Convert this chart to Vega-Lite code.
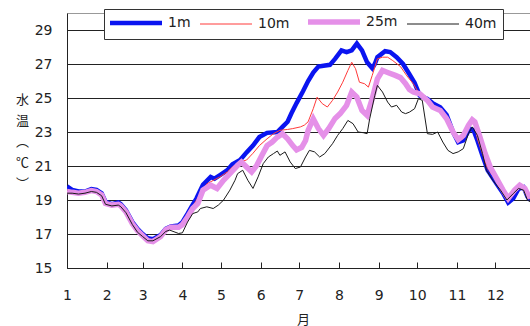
{
"$schema": "https://vega.github.io/schema/vega-lite/v6.json",
"width": 463, "height": 255,
"autosize": {"type": "none"},
"padding": {"left": 67, "top": 13, "right": 0, "bottom": 58},
"background": "white",
"config": {"view": {"stroke": "#999", "strokeWidth": 1}, "font": "DejaVu Sans"},
"data": {"values": [
{"series":"1m","day":0,"temp":19.8},{"series":"1m","day":4,"temp":19.6},{"series":"1m","day":9,"temp":19.5},{"series":"1m","day":14,"temp":19.5},{"series":"1m","day":19,"temp":19.65},{"series":"1m","day":23,"temp":19.6},{"series":"1m","day":27,"temp":19.4},{"series":"1m","day":30,"temp":18.9},{"series":"1m","day":35,"temp":18.75},{"series":"1m","day":40,"temp":18.85},{"series":"1m","day":42,"temp":18.75},{"series":"1m","day":46,"temp":18.4},{"series":"1m","day":51,"temp":17.7},{"series":"1m","day":55,"temp":17.3},{"series":"1m","day":59,"temp":17.0},{"series":"1m","day":63,"temp":16.75},{"series":"1m","day":67,"temp":16.7},{"series":"1m","day":73,"temp":16.95},{"series":"1m","day":77,"temp":17.3},{"series":"1m","day":81,"temp":17.45},{"series":"1m","day":87,"temp":17.5},{"series":"1m","day":90,"temp":17.7},{"series":"1m","day":94,"temp":18.2},{"series":"1m","day":97,"temp":18.6},{"series":"1m","day":101,"temp":19.1},{"series":"1m","day":106,"temp":19.9},{"series":"1m","day":112,"temp":20.35},{"series":"1m","day":115,"temp":20.25},{"series":"1m","day":119,"temp":20.45},{"series":"1m","day":125,"temp":20.75},{"series":"1m","day":129,"temp":21.1},{"series":"1m","day":135,"temp":21.35},{"series":"1m","day":140,"temp":21.8},{"series":"1m","day":145,"temp":22.2},{"series":"1m","day":150,"temp":22.7},{"series":"1m","day":156,"temp":22.95},{"series":"1m","day":164,"temp":23.0},{"series":"1m","day":168,"temp":23.3},{"series":"1m","day":172,"temp":23.6},{"series":"1m","day":175,"temp":24.1},{"series":"1m","day":179,"temp":24.7},{"series":"1m","day":184,"temp":25.4},{"series":"1m","day":188,"temp":26.0},{"series":"1m","day":192,"temp":26.5},{"series":"1m","day":196,"temp":26.85},{"series":"1m","day":200,"temp":26.9},{"series":"1m","day":205,"temp":26.95},{"series":"1m","day":209,"temp":27.3},{"series":"1m","day":214,"temp":27.8},{"series":"1m","day":218,"temp":27.7},{"series":"1m","day":222,"temp":27.8},{"series":"1m","day":226,"temp":28.2},{"series":"1m","day":230,"temp":27.8},{"series":"1m","day":234,"temp":27.1},{"series":"1m","day":238,"temp":26.75},{"series":"1m","day":240,"temp":27.0},{"series":"1m","day":242,"temp":27.4},{"series":"1m","day":248,"temp":27.75},{"series":"1m","day":252,"temp":27.7},{"series":"1m","day":257,"temp":27.4},{"series":"1m","day":262,"temp":27.0},{"series":"1m","day":267,"temp":26.4},{"series":"1m","day":271,"temp":25.9},{"series":"1m","day":275,"temp":25.15},{"series":"1m","day":281,"temp":24.95},{"series":"1m","day":285,"temp":24.7},{"series":"1m","day":291,"temp":24.45},{"series":"1m","day":296,"temp":24.0},{"series":"1m","day":301,"temp":23.0},{"series":"1m","day":305,"temp":22.4},{"series":"1m","day":309,"temp":22.5},{"series":"1m","day":314,"temp":23.2},{"series":"1m","day":317,"temp":23.1},{"series":"1m","day":320,"temp":22.5},{"series":"1m","day":324,"temp":21.6},{"series":"1m","day":328,"temp":20.75},{"series":"1m","day":335,"temp":19.95},{"series":"1m","day":340,"temp":19.4},{"series":"1m","day":344,"temp":18.85},{"series":"1m","day":348,"temp":19.1},{"series":"1m","day":352,"temp":19.65},{"series":"1m","day":356,"temp":19.75},{"series":"1m","day":359,"temp":19.2},{"series":"1m","day":361,"temp":19.0},
{"series":"10m","day":0,"temp":19.6},{"series":"10m","day":4,"temp":19.5},{"series":"10m","day":9,"temp":19.45},{"series":"10m","day":14,"temp":19.45},{"series":"10m","day":19,"temp":19.6},{"series":"10m","day":23,"temp":19.55},{"series":"10m","day":27,"temp":19.35},{"series":"10m","day":30,"temp":18.85},{"series":"10m","day":35,"temp":18.75},{"series":"10m","day":40,"temp":18.8},{"series":"10m","day":42,"temp":18.7},{"series":"10m","day":46,"temp":18.35},{"series":"10m","day":51,"temp":17.65},{"series":"10m","day":55,"temp":17.2},{"series":"10m","day":59,"temp":16.9},{"series":"10m","day":63,"temp":16.65},{"series":"10m","day":67,"temp":16.6},{"series":"10m","day":73,"temp":16.9},{"series":"10m","day":77,"temp":17.25},{"series":"10m","day":81,"temp":17.4},{"series":"10m","day":87,"temp":17.45},{"series":"10m","day":90,"temp":17.6},{"series":"10m","day":94,"temp":18.1},{"series":"10m","day":97,"temp":18.5},{"series":"10m","day":101,"temp":19.0},{"series":"10m","day":106,"temp":19.6},{"series":"10m","day":109,"temp":19.95},{"series":"10m","day":114,"temp":20.15},{"series":"10m","day":119,"temp":20.35},{"series":"10m","day":125,"temp":20.65},{"series":"10m","day":129,"temp":20.95},{"series":"10m","day":135,"temp":21.25},{"series":"10m","day":140,"temp":21.35},{"series":"10m","day":145,"temp":21.75},{"series":"10m","day":150,"temp":22.2},{"series":"10m","day":156,"temp":22.6},{"series":"10m","day":161,"temp":22.9},{"series":"10m","day":166,"temp":23.1},{"series":"10m","day":172,"temp":23.15},{"series":"10m","day":176,"temp":23.2},{"series":"10m","day":182,"temp":23.3},{"series":"10m","day":185,"temp":23.4},{"series":"10m","day":188,"temp":23.6},{"series":"10m","day":192,"temp":24.37},{"series":"10m","day":195,"temp":25.05},{"series":"10m","day":199,"temp":24.67},{"series":"10m","day":203,"temp":24.47},{"series":"10m","day":207,"temp":24.86},{"series":"10m","day":211,"temp":25.35},{"series":"10m","day":215,"temp":25.93},{"series":"10m","day":219,"temp":26.62},{"series":"10m","day":222,"temp":27.1},{"series":"10m","day":225,"temp":26.72},{"series":"10m","day":228,"temp":25.93},{"series":"10m","day":232,"temp":25.84},{"series":"10m","day":235,"temp":25.64},{"series":"10m","day":238,"temp":26.33},{"series":"10m","day":242,"temp":27.3},{"series":"10m","day":246,"temp":27.4},{"series":"10m","day":250,"temp":27.4},{"series":"10m","day":254,"temp":27.2},{"series":"10m","day":260,"temp":26.85},{"series":"10m","day":265,"temp":26.3},{"series":"10m","day":270,"temp":25.84},{"series":"10m","day":275,"temp":25.2},{"series":"10m","day":281,"temp":24.9},{"series":"10m","day":285,"temp":24.6},{"series":"10m","day":291,"temp":24.35},{"series":"10m","day":296,"temp":23.9},{"series":"10m","day":301,"temp":23.0},{"series":"10m","day":305,"temp":22.45},{"series":"10m","day":309,"temp":22.6},{"series":"10m","day":313,"temp":23.3},{"series":"10m","day":316,"temp":23.5},{"series":"10m","day":318,"temp":23.4},{"series":"10m","day":320,"temp":22.6},{"series":"10m","day":324,"temp":21.7},{"series":"10m","day":328,"temp":20.85},{"series":"10m","day":335,"temp":20.1},{"series":"10m","day":340,"temp":19.5},{"series":"10m","day":344,"temp":18.95},{"series":"10m","day":348,"temp":19.3},{"series":"10m","day":352,"temp":19.7},{"series":"10m","day":356,"temp":19.75},{"series":"10m","day":359,"temp":19.2},{"series":"10m","day":361,"temp":19.05},
{"series":"25m","day":0,"temp":19.5},{"series":"25m","day":4,"temp":19.45},{"series":"25m","day":9,"temp":19.4},{"series":"25m","day":14,"temp":19.45},{"series":"25m","day":19,"temp":19.55},{"series":"25m","day":23,"temp":19.5},{"series":"25m","day":27,"temp":19.3},{"series":"25m","day":30,"temp":18.8},{"series":"25m","day":35,"temp":18.7},{"series":"25m","day":40,"temp":18.75},{"series":"25m","day":42,"temp":18.65},{"series":"25m","day":46,"temp":18.3},{"series":"25m","day":51,"temp":17.6},{"series":"25m","day":55,"temp":17.2},{"series":"25m","day":59,"temp":16.9},{"series":"25m","day":63,"temp":16.6},{"series":"25m","day":67,"temp":16.55},{"series":"25m","day":73,"temp":16.85},{"series":"25m","day":77,"temp":17.25},{"series":"25m","day":81,"temp":17.4},{"series":"25m","day":87,"temp":17.4},{"series":"25m","day":90,"temp":17.55},{"series":"25m","day":94,"temp":18.0},{"series":"25m","day":98,"temp":18.5},{"series":"25m","day":102,"temp":18.8},{"series":"25m","day":106,"temp":19.58},{"series":"25m","day":112,"temp":19.87},{"series":"25m","day":117,"temp":19.68},{"series":"25m","day":122,"temp":20.16},{"series":"25m","day":127,"temp":20.55},{"series":"25m","day":133,"temp":21.04},{"series":"25m","day":136,"temp":21.24},{"series":"25m","day":140,"temp":20.94},{"series":"25m","day":144,"temp":20.65},{"series":"25m","day":148,"temp":21.04},{"series":"25m","day":152,"temp":21.63},{"series":"25m","day":156,"temp":22.2},{"series":"25m","day":160,"temp":22.41},{"series":"25m","day":164,"temp":22.7},{"series":"25m","day":168,"temp":22.9},{"series":"25m","day":172,"temp":22.6},{"series":"25m","day":176,"temp":22.2},{"series":"25m","day":179,"temp":21.95},{"series":"25m","day":183,"temp":22.1},{"series":"25m","day":186,"temp":22.5},{"series":"25m","day":188,"temp":23.1},{"series":"25m","day":192,"temp":23.78},{"series":"25m","day":196,"temp":23.2},{"series":"25m","day":200,"temp":22.8},{"series":"25m","day":204,"temp":23.2},{"series":"25m","day":209,"temp":23.8},{"series":"25m","day":213,"temp":24.08},{"series":"25m","day":218,"temp":24.57},{"series":"25m","day":222,"temp":25.35},{"series":"25m","day":226,"temp":25.05},{"series":"25m","day":230,"temp":24.27},{"series":"25m","day":234,"temp":23.98},{"series":"25m","day":238,"temp":24.96},{"series":"25m","day":242,"temp":26.13},{"series":"25m","day":246,"temp":26.62},{"series":"25m","day":250,"temp":26.5},{"series":"25m","day":256,"temp":26.33},{"series":"25m","day":260,"temp":26.2},{"series":"25m","day":264,"temp":25.84},{"series":"25m","day":267,"temp":25.5},{"series":"25m","day":270,"temp":25.35},{"series":"25m","day":275,"temp":25.25},{"series":"25m","day":281,"temp":24.86},{"series":"25m","day":285,"temp":24.47},{"series":"25m","day":291,"temp":24.27},{"series":"25m","day":296,"temp":23.78},{"series":"25m","day":301,"temp":23.0},{"series":"25m","day":305,"temp":22.55},{"series":"25m","day":309,"temp":22.8},{"series":"25m","day":313,"temp":23.39},{"series":"25m","day":316,"temp":23.72},{"series":"25m","day":318,"temp":23.6},{"series":"25m","day":322,"temp":22.7},{"series":"25m","day":326,"temp":21.73},{"series":"25m","day":330,"temp":20.94},{"series":"25m","day":335,"temp":20.26},{"series":"25m","day":340,"temp":19.58},{"series":"25m","day":344,"temp":19.09},{"series":"25m","day":349,"temp":19.58},{"series":"25m","day":353,"temp":19.87},{"series":"25m","day":357,"temp":19.68},{"series":"25m","day":361,"temp":19.09},
{"series":"40m","day":0,"temp":19.4},{"series":"40m","day":4,"temp":19.4},{"series":"40m","day":9,"temp":19.35},{"series":"40m","day":14,"temp":19.4},{"series":"40m","day":19,"temp":19.5},{"series":"40m","day":23,"temp":19.45},{"series":"40m","day":27,"temp":19.25},{"series":"40m","day":30,"temp":18.75},{"series":"40m","day":35,"temp":18.65},{"series":"40m","day":40,"temp":18.7},{"series":"40m","day":42,"temp":18.6},{"series":"40m","day":46,"temp":18.25},{"series":"40m","day":51,"temp":17.55},{"series":"40m","day":55,"temp":17.1},{"series":"40m","day":59,"temp":16.85},{"series":"40m","day":63,"temp":16.6},{"series":"40m","day":67,"temp":16.6},{"series":"40m","day":73,"temp":16.85},{"series":"40m","day":77,"temp":17.15},{"series":"40m","day":80,"temp":17.23},{"series":"40m","day":87,"temp":17.03},{"series":"40m","day":90,"temp":17.07},{"series":"40m","day":94,"temp":17.7},{"series":"40m","day":98,"temp":18.2},{"series":"40m","day":102,"temp":18.3},{"series":"40m","day":104,"temp":18.5},{"series":"40m","day":109,"temp":18.6},{"series":"40m","day":114,"temp":18.5},{"series":"40m","day":118,"temp":18.7},{"series":"40m","day":122,"temp":18.99},{"series":"40m","day":127,"temp":19.58},{"series":"40m","day":131,"temp":20.16},{"series":"40m","day":133,"temp":20.55},{"series":"40m","day":137,"temp":20.75},{"series":"40m","day":141,"temp":20.16},{"series":"40m","day":145,"temp":19.68},{"series":"40m","day":149,"temp":20.36},{"series":"40m","day":153,"temp":21.14},{"series":"40m","day":157,"temp":21.53},{"series":"40m","day":161,"temp":21.73},{"series":"40m","day":164,"temp":21.88},{"series":"40m","day":166,"temp":21.63},{"series":"40m","day":170,"temp":21.83},{"series":"40m","day":174,"temp":21.24},{"series":"40m","day":178,"temp":20.85},{"series":"40m","day":182,"temp":20.94},{"series":"40m","day":186,"temp":21.53},{"series":"40m","day":189,"temp":21.92},{"series":"40m","day":193,"temp":21.83},{"series":"40m","day":197,"temp":21.53},{"series":"40m","day":201,"temp":21.73},{"series":"40m","day":207,"temp":22.31},{"series":"40m","day":211,"temp":22.8},{"series":"40m","day":215,"temp":23.2},{"series":"40m","day":219,"temp":23.68},{"series":"40m","day":223,"temp":23.49},{"series":"40m","day":227,"temp":23.0},{"series":"40m","day":231,"temp":22.96},{"series":"40m","day":234,"temp":22.9},{"series":"40m","day":236,"temp":23.78},{"series":"40m","day":240,"temp":25.15},{"series":"40m","day":242,"temp":25.74},{"series":"40m","day":246,"temp":25.35},{"series":"40m","day":250,"temp":24.76},{"series":"40m","day":253,"temp":24.47},{"series":"40m","day":257,"temp":24.57},{"series":"40m","day":261,"temp":24.17},{"series":"40m","day":264,"temp":24.08},{"series":"40m","day":267,"temp":24.17},{"series":"40m","day":271,"temp":24.37},{"series":"40m","day":274,"temp":24.96},{"series":"40m","day":277,"temp":24.86},{"series":"40m","day":279,"temp":23.88},{"series":"40m","day":281,"temp":22.9},{"series":"40m","day":285,"temp":22.86},{"series":"40m","day":289,"temp":23.0},{"series":"40m","day":293,"temp":22.41},{"series":"40m","day":297,"temp":21.92},{"series":"40m","day":301,"temp":21.73},{"series":"40m","day":305,"temp":21.83},{"series":"40m","day":309,"temp":22.02},{"series":"40m","day":313,"temp":22.9},{"series":"40m","day":316,"temp":23.3},{"series":"40m","day":320,"temp":22.8},{"series":"40m","day":324,"temp":21.73},{"series":"40m","day":327,"temp":20.75},{"series":"40m","day":332,"temp":20.16},{"series":"40m","day":338,"temp":19.58},{"series":"40m","day":343,"temp":19.0},{"series":"40m","day":348,"temp":19.38},{"series":"40m","day":352,"temp":19.68},{"series":"40m","day":356,"temp":19.58},{"series":"40m","day":359,"temp":19.0},{"series":"40m","day":361,"temp":18.9}
]},
"mark": {"type": "line", "interpolate": "linear", "clip": true},
"encoding": {
  "x": {"field": "day", "type": "quantitative",
    "scale": {"domain": [0, 361], "nice": false, "zero": false},
    "axis": {"values": [0,31,59,90,120,151,181,212,243,273,304,334],
      "labelExpr": "indexof([0,31,59,90,120,151,181,212,243,273,304,334], datum.value) + 1",
      "grid": false, "tickSize": -6, "tickColor": "#222", "domainColor": "#222",
      "labelPadding": 26, "labelFontSize": 14, "labelColor": "#222", "labelFlush": false, "labelOverlap": false,
      "title": "月", "titleFont": "Noto Sans CJK JP", "titleX": 236, "titleY": 45, "titleAlign": "center", "titleBaseline": "top",
      "titleFontSize": 13, "titleFontWeight": "normal", "titleColor": "#222"}},
  "y": {"field": "temp", "type": "quantitative",
    "scale": {"domain": [15, 30], "nice": false, "zero": false},
    "axis": {"values": [15,17,19,21,23,25,27,29], "grid": true, "gridColor": "#222", "gridWidth": 1,
      "ticks": false, "domainColor": "#222", "labelPadding": 15, "labelFontSize": 14, "labelColor": "#222",
      "title": ["水","温","︵","℃","︶"], "titleFont": "Noto Sans CJK JP", "titleAngle": 0, "titleX": -45, "titleY": 80,
      "titleAlign": "center", "titleBaseline": "top", "titleFontSize": 13, "titleFontWeight": "normal",
      "titleLineHeight": 21, "titleColor": "#222"}},
  "color": {"field": "series", "type": "nominal",
    "scale": {"domain": ["1m","10m","25m","40m"], "range": ["#0A14F0","#FF3A3A","#E590E8","#1a1a1a"]},
    "legend": {"orient": "none", "legendX": 37, "legendY": -4, "direction": "horizontal", "columns": 4,
      "title": null, "fillColor": "white", "strokeColor": "#333", "padding": 6,
      "symbolType": "stroke", "symbolSize": 2704, "symbolStrokeWidth": 1, "symbolOffset": 19,
      "labelFontSize": 14, "labelColor": "#222", "labelOffset": 25, "columnPadding": 7,
      "encode": {"symbols": {"update": {"strokeWidth": {"signal": "datum.value === '1m' ? 4.5 : datum.value === '25m' ? 5.5 : 1"}}}}}},
  "strokeWidth": {"condition": [{"test": "datum.series === '1m'", "value": 4.5}, {"test": "datum.series === '25m'", "value": 5.5}], "value": 1}
}
}
